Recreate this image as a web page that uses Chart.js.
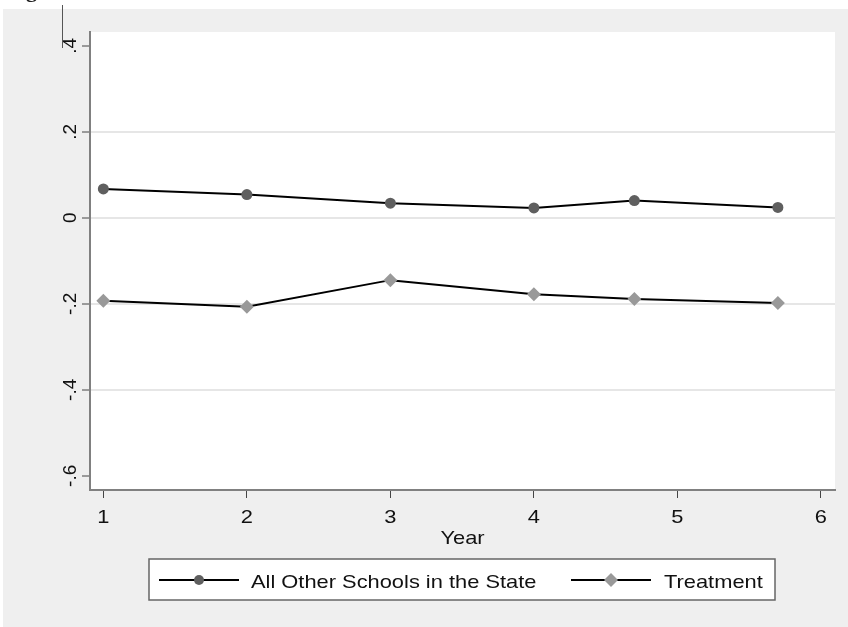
<!DOCTYPE html>
<html>
<head>
<meta charset="utf-8">
<script src="https://cdn.jsdelivr.net/npm/chart.js@4.4.0/dist/chart.umd.min.js"></script>
<style>
  html, body { margin: 0; padding: 0; background: #ffffff; }
  #wrap { position: relative; width: 848px; height: 627px; }
</style>
</head>
<body>
<div id="wrap"><canvas id="chart" width="848" height="627"></canvas></div>
<script>
// Chart data
const years = [1, 2, 3, 4, 4.7, 5.7];
const otherSchools = [0.067, 0.054, 0.034, 0.023, 0.040, 0.024];
const treatment = [-0.193, -0.207, -0.145, -0.178, -0.189, -0.198];
const xTicks = [1, 2, 3, 4, 5, 6];
const xTickLabels = ['1', '2', '3', '4', '5', '6'];
const yTicks = [-0.6, -0.4, -0.2, 0, 0.2, 0.4];
const yTickLabels = ['-.6', '-.4', '-.2', '0', '.2', '.4'];
const seriesNames = ['All Other Schools in the State', 'Treatment'];
const xTitle = 'Year';

const FONT = '19px "Liberation Sans", Arial, sans-serif';
const STRETCH = 1.15;   // reference text is a bit wide for its height
const BG_GRAY = '#efefef';
const TEXT = '#111111';

function toPoints(xs, ys) {
    return xs.map((x, i) => ({ x: x, y: ys[i] }));
}

// draw text stretched horizontally, anchored at (x, y)
function wideText(ctx, str, x, y, align) {
    ctx.save();
    ctx.translate(x, y);
    ctx.scale(STRETCH, 1);
    ctx.textAlign = align;
    ctx.fillText(str, 0, 0);
    ctx.restore();
}

// Page background, plot region and the stray marks at the top
const backgroundPlugin = {
    id: 'stataBackground',
    beforeDraw(chart) {
        const ctx = chart.ctx;
        const area = chart.chartArea;
        ctx.save();
        ctx.fillStyle = '#ffffff';
        ctx.fillRect(0, 0, chart.width, chart.height);
        ctx.fillStyle = BG_GRAY;
        ctx.fillRect(3, 9, chart.width - 3, chart.height - 9);
        ctx.fillStyle = '#ffffff';
        ctx.fillRect(area.left, area.top, area.right - area.left, area.bottom - area.top);

        // cut-off title descender and vertical rule
        ctx.fillStyle = '#222';
        ctx.font = 'bold 22px "Liberation Serif", serif';
        ctx.textBaseline = 'alphabetic';
        ctx.fillText('g', 26, -3);
        ctx.strokeStyle = '#555';
        ctx.lineWidth = 1;
        ctx.beginPath();
        ctx.moveTo(62.5, 5);
        ctx.lineTo(62.5, 48);
        ctx.stroke();
        ctx.restore();
    }
};

// Axis labels and title drawn from the scales
const axisTextPlugin = {
    id: 'axisText',
    afterDraw(chart) {
        const ctx = chart.ctx;
        const xs = chart.scales.x;
        const ys = chart.scales.y;
        const area = chart.chartArea;
        ctx.save();
        ctx.fillStyle = TEXT;
        ctx.font = FONT;
        ctx.textBaseline = 'alphabetic';

        // x tick labels
        xTicks.forEach((v, i) => {
            wideText(ctx, xTickLabels[i], xs.getPixelForValue(v), area.bottom + 33, 'center');
        });
        // x title
        wideText(ctx, xTitle, (area.left + area.right) / 2, area.bottom + 54, 'center');

        // y tick labels, rotated
        ctx.textAlign = 'center';
        yTicks.forEach((v, i) => {
            ctx.save();
            ctx.translate(area.left - 14, ys.getPixelForValue(v));
            ctx.rotate(-Math.PI / 2);
            ctx.fillText(yTickLabels[i], 0, 0);
            ctx.restore();
        });
        ctx.restore();
    }
};

// Legend box with line + marker keys
const legendPlugin = {
    id: 'stataLegend',
    afterDraw(chart) {
        const ctx = chart.ctx;
        const box = { left: 149, top: 559, right: 775, bottom: 600 };
        const keys = [
            { x0: 159, x1: 239, textX: 251 },
            { x0: 571, x1: 651, textX: 664 }
        ];
        const cy = 580;
        ctx.save();
        ctx.fillStyle = '#ffffff';
        ctx.fillRect(box.left, box.top, box.right - box.left, box.bottom - box.top);
        ctx.strokeStyle = '#666';
        ctx.lineWidth = 1.5;
        ctx.strokeRect(box.left, box.top, box.right - box.left, box.bottom - box.top);

        chart.data.datasets.forEach((ds, i) => {
            const k = keys[i];
            ctx.strokeStyle = ds.borderColor;
            ctx.lineWidth = ds.borderWidth;
            ctx.beginPath();
            ctx.moveTo(k.x0, cy);
            ctx.lineTo(k.x1, cy);
            ctx.stroke();
            ctx.fillStyle = ds.pointBackgroundColor;
            ctx.strokeStyle = ds.pointBackgroundColor;
            ctx.lineWidth = 1;
            Chart.helpers.drawPoint(ctx, {
                pointStyle: ds.pointStyle,
                radius: ds.pointStyle === 'circle' ? 5 : 7,
                rotation: 0,
                borderWidth: 0
            }, (k.x0 + k.x1) / 2, cy);
            ctx.fillStyle = TEXT;
            ctx.font = FONT;
            ctx.textBaseline = 'alphabetic';
            wideText(ctx, ds.label, k.textX, 588, 'left');
        });
        ctx.restore();
    }
};

const ctx = document.getElementById('chart').getContext('2d');
const chart = new Chart(ctx, {
    type: 'line',
    data: {
        datasets: [{
            label: seriesNames[0],
            data: toPoints(years, otherSchools),
            borderColor: '#000000',
            borderWidth: 2,
            pointStyle: 'circle',
            pointRadius: 5.5,
            pointBackgroundColor: '#5f5f5f',
            pointBorderColor: '#5f5f5f',
            pointBorderWidth: 0,
            tension: 0
        }, {
            label: seriesNames[1],
            data: toPoints(years, treatment),
            borderColor: '#000000',
            borderWidth: 2,
            pointStyle: 'rectRot',
            pointRadius: 7,
            pointBackgroundColor: '#999999',
            pointBorderColor: '#999999',
            pointBorderWidth: 0,
            tension: 0
        }]
    },
    options: {
        responsive: false,
        animation: false,
        layout: {
            padding: { top: 32, right: 13, left: 0, bottom: 75 }
        },
        plugins: {
            legend: { display: false },
            tooltip: { enabled: false }
        },
        scales: {
            x: {
                type: 'linear',
                min: 0.907,
                max: 6.098,
                afterBuildTicks: function(scale) {
                    scale.ticks = xTicks.map(v => ({ value: v }));
                },
                afterFit: function(scale) {
                    scale.height = 62;
                },
                grid: {
                    drawOnChartArea: false,
                    drawTicks: true,
                    tickLength: 8,
                    tickColor: '#444'
                },
                border: { display: true, color: '#808080', width: 2 },
                ticks: { display: false }
            },
            y: {
                type: 'linear',
                min: -0.633,
                max: 0.432,
                afterBuildTicks: function(scale) {
                    scale.ticks = yTicks.map(v => ({ value: v }));
                },
                afterFit: function(scale) {
                    scale.width = 90;
                },
                grid: {
                    color: function(c) {
                        const v = c.tick ? c.tick.value : 0;
                        return (Math.abs(v - 0.4) < 1e-6 || Math.abs(v + 0.6) < 1e-6) ? 'rgba(0,0,0,0)' : '#e6e6e6';
                    },
                    lineWidth: 2,
                    drawTicks: true,
                    tickLength: 8,
                    tickColor: '#444',
                    tickWidth: 1
                },
                border: { display: true, color: '#808080', width: 2 },
                ticks: { display: false }
            }
        }
    },
    plugins: [backgroundPlugin, axisTextPlugin, legendPlugin]
});
</script>
</body>
</html>
